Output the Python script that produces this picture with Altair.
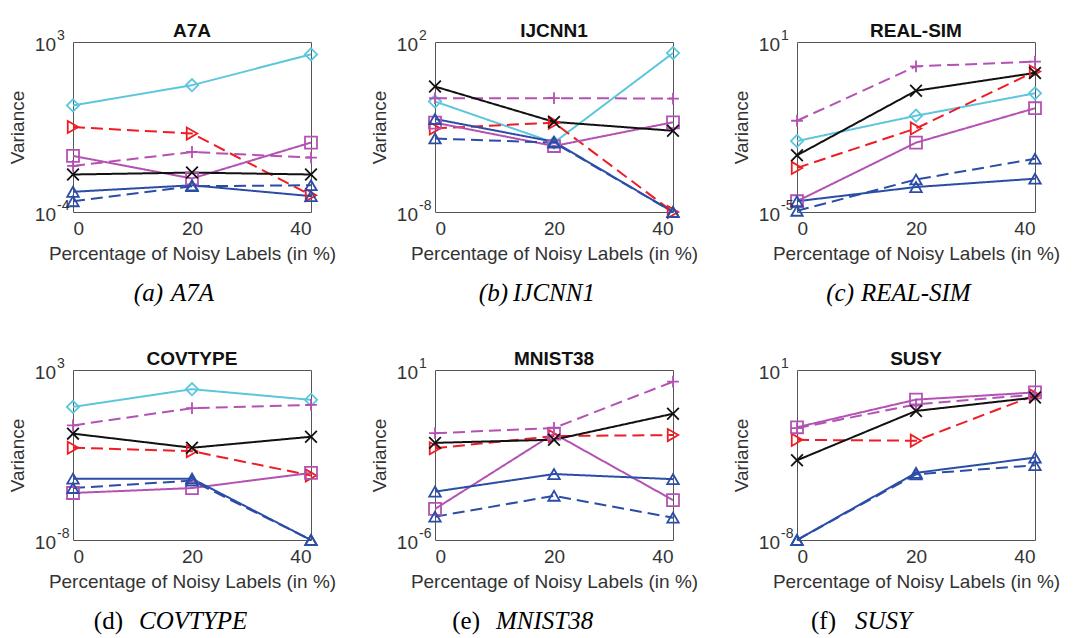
import math
import altair as alt
import pandas as pd

# ---------------- data ----------------
NOISE = [0, 20, 40]

SERIES = ["cyan_diamond", "red_dash_tri", "mag_square", "mag_dash_plus",
          "black_x", "blue_tri", "blue_dash_tri"]

A7A = {
    "cyan_diamond":  [2.45, 16.6, 309],
    "red_dash_tri":  [0.316, 0.17, 4.9e-4],
    "mag_square":    [0.0204, 2.4e-3, 0.0724],
    "mag_dash_plus": [7.9e-3, 0.0295, 0.0174],
    "black_x":       [3.5e-3, 4.2e-3, 3.5e-3],
    "blue_tri":      [6.8e-4, 1.26e-3, 4.5e-4],
    "blue_dash_tri": [2.75e-4, 1.15e-3, 1.26e-3],
}
IJCNN1 = {
    "cyan_diamond":  [0.0316, 1.2e-4, 22.4],
    "red_dash_tri":  [8.3e-4, 1.8e-3, 1e-8],
    "mag_square":    [1.8e-3, 7.6e-5, 1.9e-3],
    "mag_dash_plus": [0.049, 0.05, 0.047],
    "black_x":       [0.24, 2.0e-3, 6.0e-4],
    "blue_tri":      [2.95e-3, 1.35e-4, 1e-8],
    "blue_dash_tri": [2.1e-4, 1.2e-4, 1e-8],
}
REAL_SIM = {
    "cyan_diamond":  [3.2e-3, 0.025, 0.155],
    "red_dash_tri":  [3.6e-4, 8.9e-3, 0.91],
    "mag_square":    [2.4e-5, 2.8e-3, 0.046],
    "mag_dash_plus": [0.0166, 1.38, 2.04],
    "black_x":       [1.0e-3, 0.19, 0.81],
    "blue_tri":      [2.4e-5, 7.6e-5, 1.5e-4],
    "blue_dash_tri": [1.1e-5, 1.4e-4, 7.6e-4],
}
COVTYPE = {
    "cyan_diamond":  [4.1, 57.5, 11.7],
    "red_dash_tri":  [9.3e-3, 5.6e-3, 1.5e-4],
    "mag_square":    [1.1e-5, 2.3e-5, 2.2e-4],
    "mag_dash_plus": [0.26, 3.4, 5.5],
    "black_x":       [0.076, 9.3e-3, 0.048],
    "blue_tri":      [9.3e-5, 9.3e-5, 1e-8],
    "blue_dash_tri": [2.3e-5, 6.9e-5, 1e-8],
}
MNIST38 = {
    "red_dash_tri":  [6.0e-3, 0.019, 0.021],
    "mag_square":    [1.9e-5, 0.024, 4.4e-5],
    "mag_dash_plus": [0.025, 0.041, 3.3],
    "black_x":       [0.010, 0.0135, 0.158],
    "blue_tri":      [9.8e-5, 5.2e-4, 3.2e-4],
    "blue_dash_tri": [9.1e-6, 6.6e-5, 8.3e-6],
}
SUSY = {
    "red_dash_tri":  [2.0e-3, 1.8e-3, 0.46],
    "mag_square":    [9.3e-3, 0.27, 0.65],
    "mag_dash_plus": [8.3e-3, 0.15, 0.50],
    "black_x":       [1.66e-4, 0.068, 0.35],
    "blue_tri":      [1e-8, 3.6e-5, 2.3e-4],
    "blue_dash_tri": [1e-8, 3.0e-5, 9.1e-5],
}

TITLES = ["A7A", "IJCNN1", "REAL-SIM", "COVTYPE", "MNIST38", "SUSY"]
PREFIXES = ["(a)", "(b)", "(c)", "(d)", "(e)", "(f)"]
DOMAINS = [(1e-4, 1e3), (1e-8, 1e2), (1e-5, 1e1),
           (1e-8, 1e3), (1e-6, 1e1), (1e-8, 1e1)]
DATASETS = [A7A, IJCNN1, REAL_SIM, COVTYPE, MNIST38, SUSY]

X_TITLE = "Percentage of Noisy Labels (in %)"
Y_TITLE = "Variance"

# ---------------- styles ----------------
COLORS = ["#5BC6DC", "#EE1D24", "#B352B3", "#B352B3", "#111111", "#2B4DA6", "#2B4DA6"]
DASHES = [[1, 0], [12, 6], [1, 0], [12, 6], [1, 0], [1, 0], [12, 6]]
SHAPES = ["diamond", "triangle-right", "square", "M-1,0L1,0M0,-1L0,1",
          "M-1,-1L1,1M-1,1L1,-1", "triangle-up", "triangle-up"]
SIZES = [150, 130, 90, 200, 90, 150, 150]

W, H = 238, 170
SANS = "Liberation Sans"
SERIF = "Liberation Serif"
CAP_POS = [(90, 98), (73, 78), (57, 64), (50, 66), (45, 61), (39, 58)]
PREFIX_STYLE = ["italic", "italic", "italic", "normal", "normal", "normal"]
LABEL_COLOR = "#333333"


def panel(i):
    data = DATASETS[i]
    lo, hi = DOMAINS[i]
    rows = [{"series": s, "noise": x, "variance": v}
            for s, vals in data.items() for x, v in zip(NOISE, vals)]
    df = pd.DataFrame(rows)
    x = alt.X("noise:Q", scale=alt.Scale(domain=[0, 40], nice=False, zero=False),
              axis=alt.Axis(values=NOISE, title=X_TITLE, labelPadding=7, titlePadding=6))
    y = alt.Y("variance:Q", scale=alt.Scale(type="log", domain=[lo, hi], nice=False),
              axis=alt.Axis(values=[lo, hi], title=Y_TITLE, labels=False,
                            minExtent=40, maxExtent=40, titlePadding=6))
    color = alt.Color("series:N", scale=alt.Scale(domain=SERIES, range=COLORS), legend=None)
    dash = alt.StrokeDash("series:N", scale=alt.Scale(domain=SERIES, range=DASHES), legend=None)
    shape = alt.Shape("series:N", scale=alt.Scale(domain=SERIES, range=SHAPES), legend=None)
    size = alt.Size("series:N", scale=alt.Scale(domain=SERIES, range=SIZES), legend=None)
    base = alt.Chart(df)
    lines = base.mark_line(strokeWidth=2).encode(x=x, y=y, color=color, strokeDash=dash,
                                                 detail="series:N")
    pts = base.mark_point(filled=False, strokeWidth=1.8, opacity=1).encode(
        x=x, y=y, color=color, shape=shape, size=size)

    # y tick labels 10^e, positioned by the y scale
    lab_df = pd.DataFrame({
        "variance": [lo, hi],
        "base": ["10", "10"],
        "exp": [str(int(round(math.log10(lo)))), str(int(round(math.log10(hi))))],
    })
    lab_base = alt.Chart(lab_df).mark_text(font=SANS, fontSize=19, align="right",
                                           baseline="middle", dy=3, color=LABEL_COLOR).encode(
        x=alt.value(-17), y=y, text="base:N")
    lab_exp = alt.Chart(lab_df).mark_text(font=SANS, fontSize=14, align="left",
                                          baseline="middle", dy=-6, color=LABEL_COLOR).encode(
        x=alt.value(-16), y=y, text="exp:N")

    cap_df = pd.DataFrame({"prefix": [PREFIXES[i]], "name": [TITLES[i]]})
    pr, nl = CAP_POS[i]
    cap1 = alt.Chart(cap_df).mark_text(font=SERIF, fontSize=25, fontStyle=PREFIX_STYLE[i],
                                       align="right", baseline="middle", color="black").encode(
        x=alt.value(pr), y=alt.value(H + 81), text="prefix:N")
    cap2 = alt.Chart(cap_df).mark_text(font=SERIF, fontSize=25, fontStyle="italic",
                                       align="left", baseline="middle", color="black").encode(
        x=alt.value(nl), y=alt.value(H + 81), text="name:N")
    return alt.layer(lines, pts, lab_base, lab_exp, cap1, cap2).properties(
        width=W, height=H,
        title=alt.TitleParams(TITLES[i], frame="group", anchor="middle", offset=-10, dy=2))


row1 = alt.hconcat(panel(0), panel(1), panel(2), spacing=32)
row2 = alt.hconcat(panel(3), panel(4), panel(5), spacing=32)

chart = alt.vconcat(row1, row2, spacing=42).properties(
    padding={"left": 7, "top": 21, "right": 5, "bottom": 5}
).configure_view(
    stroke="#555555", strokeWidth=1
).configure_axis(
    grid=False, ticks=False, domain=False,
    labelFont=SANS, labelFontSize=19, labelColor=LABEL_COLOR,
    titleFont=SANS, titleFontSize=19, titleFontWeight="normal", titleColor=LABEL_COLOR
).configure_title(
    font=SANS, fontSize=19, fontWeight="bold", color="#111111"
)

chart.save("out.html", embed_options={"renderer": "svg", "actions": False})
